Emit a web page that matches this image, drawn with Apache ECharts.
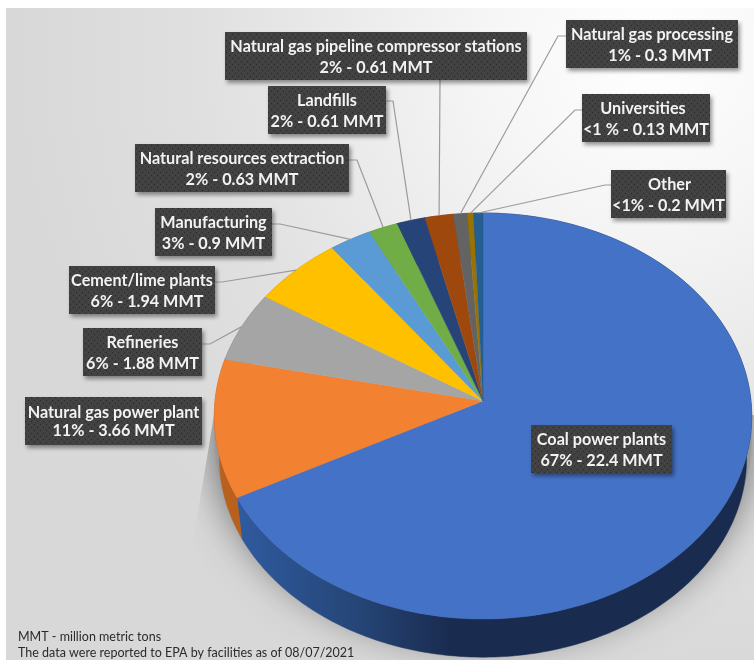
<!DOCTYPE html>
<html>
<head>
<meta charset="utf-8">
<title>Facility CO2 emissions by sector</title>
<style>html,body{margin:0;padding:0;background:#fff}#chart{width:754px;height:660px}</style>
<script src="https://cdn.jsdelivr.net/npm/echarts@6/dist/echarts.min.js"></script>
</head>
<body>
<div id="chart"></div>
<script>
// Emissions per sector in million metric tons, clockwise from twelve o'clock.
const categories = [
  'Coal power plants', 'Natural gas power plant', 'Refineries', 'Cement/lime plants',
  'Manufacturing', 'Natural resources extraction', 'Landfills',
  'Natural gas pipeline compressor stations', 'Natural gas processing', 'Universities', 'Other'
];
const valuesMMT = [22.4, 3.66, 1.88, 1.94, 0.9, 0.63, 0.61, 0.61, 0.3, 0.13, 0.2];
const shareLabels = ['67%', '11%', '6%', '6%', '3%', '2%', '2%', '2%', '1%', '<1 %', '<1%'];
const sliceColors = ['#4472C6', '#F38132', '#A5A5A5', '#FFC000', '#5B9BD5', '#70AD47',
  '#264478', '#9E480E', '#636363', '#997300', '#255E91'];
const sideColors = ['#2F5A9E', '#B8611F', '#7C7C7C', '#BF9000', '#4474A0', '#548235',
  '#1C335A', '#76360A', '#4A4A4A', '#735600', '#1C466D'];

// Callout boxes: [left, top, right, bottom], same order as the categories.
const labelBoxes = [
  [531, 425, 672, 473], [25, 397, 202, 445], [83, 328, 202, 376], [69, 266, 215, 314],
  [155, 208, 272, 256], [135, 144, 349, 192], [268, 86, 386, 134], [225, 32, 527, 80],
  [566, 20, 738, 68], [582, 94, 710, 142], [611, 170, 726, 218]
];
// Sideways nudges of the two callout lines and their spacing, in pixels.
const firstLineNudge = [0, 0, 0, 0, 0, 0, 0, 0, 0, -3, 1];
const secondLineNudge = [0, 0, 0, 5, 0, 0, 0, 0, 8, 0, 0];
const lineGaps = [21, 18, 21, 21, 21, 21, 21, 21, 21, 21, 21];
// Leader lines: box attachment and elbow; null where the callout has no leader.
const leaderStarts = [
  null, null,
  [[202, 344], [210, 344]], [[215, 282], [222, 282]], [[272, 224], [280, 224]],
  [[349, 160], [357, 160]], [[386, 101], [393, 101]], [[440, 80], [440, 80]],
  [[566, 36], [558, 36]], [[582, 110], [575, 110]], [[611, 185], [605, 185]]
];
const footnotes = ['MMT - million metric tons', 'The data were reported to EPA by facilities as of 08/07/2021'];

const total = valuesMMT.reduce((a, b) => a + b, 0);
let running = 0;
const sliceRows = valuesMMT.map((v, i) => {
  const start = running / total * 360;
  running += v;
  return { name: categories[i], value: [start, running / total * 360, v, i] };
});

// Tilted disc: a projective map of the unit circle, so spokes meet off the ellipse centre.
const CX = 483, APEX_Y = 401, HALF_W = 268, PERSP = -0.0739, Y_SCALE = 172.3;
function rimTop(deg) {
  const t = deg * Math.PI / 180, u = Math.sin(t), v = -Math.cos(t);
  const d = 1 + PERSP * v;
  return [CX + u * HALF_W / d, (Y_SCALE * v + APEX_Y) / d];
}
// Bottom edge of the disc: the same rim, slightly smaller and pushed down.
function rimBottom(deg) {
  const p = rimTop(deg);
  return [CX + (p[0] - CX) * 0.981, 458 + (p[1] - 416) * 0.981];
}
function arc(fn, a, b) {
  const pts = [], n = Math.max(2, Math.ceil(Math.abs(b - a)));
  for (let i = 0; i <= n; i++) pts.push(fn(a + (b - a) * i / n));
  return pts;
}

const coalSide = {
  type: 'linear', global: true, x: 241, y: 0, x2: 450, y2: 0,
  colorStops: [{ offset: 0, color: sideColors[0] }, { offset: 0.55, color: '#254677' }, { offset: 1, color: '#1A2B50' }]
};

function renderShadow() {
  return {
    type: 'polygon',
    shape: { points: arc(rimTop, 0, 360).map(p => [p[0], p[1] + 22]) },
    style: { fill: '#999', shadowBlur: 42, shadowColor: 'rgba(0,0,0,0.55)' },
    clipPath: { type: 'polygon', shape: { points: [[214, 415], [195, 530], [160, 665], [760, 665], [760, 415]] } }
  };
}
function renderSide(params, api) {
  const a = api.value(0), b = api.value(1), i = api.value(3);
  const pts = arc(rimTop, a, b).concat(arc(rimBottom, b, a));
  const fill = i === 0 ? coalSide : sideColors[i];
  return { type: 'polygon', shape: { points: pts }, style: { fill: fill, stroke: fill, lineWidth: 0.5 } };
}
function renderTop(params, api) {
  const a = api.value(0), b = api.value(1), i = api.value(3);
  const pts = [[CX, APEX_Y]].concat(arc(rimTop, a, b));
  return { type: 'polygon', shape: { points: pts }, style: { fill: sliceColors[i], stroke: sliceColors[i], lineWidth: 0.4 } };
}
function renderLeader(params, api) {
  const i = api.value(3), start = leaderStarts[i];
  if (!start) return null;
  const end = rimTop((api.value(0) + api.value(1)) / 2);
  return {
    type: 'polyline',
    shape: { points: start.concat([end]) },
    style: { fill: 'none', stroke: '#9B9B9B', lineWidth: 1.2 }
  };
}

// Dark dotted fill of the callout boxes.
const tile = document.createElement('canvas');
tile.width = 6; tile.height = 6;
(function () {
  const c = tile.getContext('2d');
  c.fillStyle = '#414141'; c.fillRect(0, 0, 6, 6);
  c.fillStyle = 'rgba(0,0,0,0.38)';
  c.fillRect(1, 1, 1, 1); c.fillRect(4, 4, 1, 1);
  c.fillStyle = 'rgba(255,255,255,0.05)';
  c.fillRect(1, 4, 1, 1); c.fillRect(4, 1, 1, 1);
})();

const LABEL_FONT = 'bold 16.2px Lato, "Open Sans", sans-serif';
function renderLabel(params, api) {
  const i = api.value(3), box = labelBoxes[i];
  const mid = (box[0] + box[2]) / 2, cy = (box[1] + box[3]) / 2 + 1;
  const line2 = shareLabels[i] + ' - ' + api.value(2) + ' MMT';
  const up = Math.floor(lineGaps[i] / 2), down = lineGaps[i] - up;
  return {
    type: 'group',
    children: [
      {
        type: 'rect',
        shape: { x: box[0], y: box[1], width: box[2] - box[0], height: box[3] - box[1] },
        style: { fill: { image: tile, repeat: 'repeat' }, shadowBlur: 4, shadowOffsetX: 2, shadowOffsetY: 3, shadowColor: 'rgba(0,0,0,0.42)' }
      },
      { type: 'text', style: { text: categories[i], x: mid + firstLineNudge[i], y: cy - up, fill: '#F2F2F2', font: LABEL_FONT, textAlign: 'center', textVerticalAlign: 'middle' } },
      { type: 'text', style: { text: line2, x: mid + secondLineNudge[i], y: cy + down, fill: '#F2F2F2', font: LABEL_FONT, textAlign: 'center', textVerticalAlign: 'middle' } }
    ]
  };
}

function customSeries(render, z, data) {
  return { type: 'custom', coordinateSystem: 'none', renderItem: render, data: data, z: z, silent: true, animation: false };
}

const chart = echarts.init(document.getElementById('chart'), null, { renderer: 'canvas' });
chart.setOption({
  animation: false,
  graphic: {
    elements: [
      {
        type: 'rect', z: -10, silent: true,
        shape: { x: 6, y: 8, width: 748, height: 652 },
        style: {
          fill: {
            type: 'radial', global: true, x: 650, y: 50, r: 640,
            colorStops: [{ offset: 0, color: '#FFFFFF' }, { offset: 0.25, color: '#F6F6F6' }, { offset: 0.7, color: '#E0E0E0' }, { offset: 1, color: '#D8D8D8' }]
          }
        }
      },
      { type: 'text', z: 20, silent: true, style: { text: footnotes[0], x: 18, y: 637, fill: '#2B2B2B', font: '12.5px Lato, sans-serif', textVerticalAlign: 'middle' } },
      { type: 'text', z: 20, silent: true, style: { text: footnotes[1], x: 18, y: 653, fill: '#2B2B2B', font: '12.5px Lato, sans-serif', textVerticalAlign: 'middle' } }
    ]
  },
  series: [
    customSeries(renderShadow, 1, [[0]]),
    customSeries(renderSide, 2, sliceRows),
    customSeries(renderTop, 3, sliceRows),
    customSeries(renderLeader, 4, sliceRows),
    customSeries(renderLabel, 5, sliceRows)
  ]
});
</script>
</body>
</html>
